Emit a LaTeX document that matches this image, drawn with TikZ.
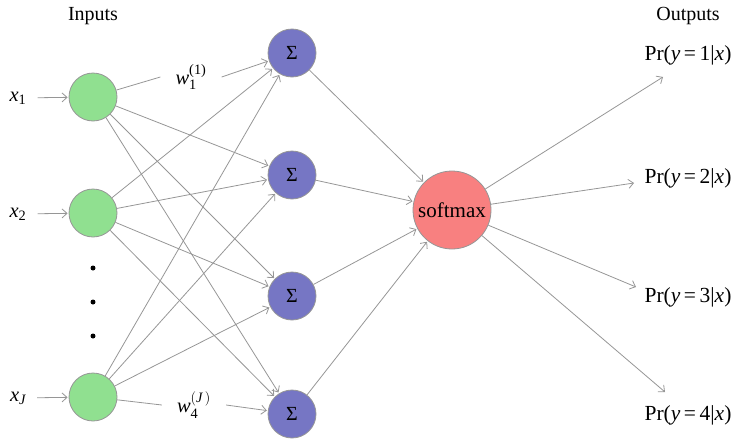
\documentclass[tikz,border=0pt]{standalone}
\usepackage{fontspec}
\setmainfont{Liberation Serif}
\usepackage{amsmath}
\usetikzlibrary{arrows.meta}
\definecolor{edgec}{RGB}{150,150,150}
\definecolor{inpc}{RGB}{144,224,144}
\definecolor{sigc}{RGB}{118,118,196}
\definecolor{softc}{RGB}{248,128,128}
\begin{document}
\begin{tikzpicture}[x=1pt,y=-1pt,
  conn/.style={draw=edgec,line width=0.8pt,-{Straight Barb[length=5pt,width=9pt]},shorten >=1pt},
  plain/.style={draw=edgec,line width=0.8pt},
  inp/.style={circle,draw=edgec,line width=0.8pt,fill=inpc,minimum size=48pt,inner sep=0pt},
  sig/.style={circle,draw=edgec,line width=0.8pt,fill=sigc,minimum size=48pt,inner sep=0pt,font=\fontsize{20}{22}\selectfont},
  soft/.style={circle,draw=edgec,line width=0.8pt,fill=softc,minimum size=78pt,inner sep=0pt,font=\fontsize{21}{24}\selectfont},
  lab/.style={font=\fontsize{20.5}{24}\selectfont,inner sep=1pt},
  plab/.style={font=\fontsize{21.5}{24}\selectfont,inner sep=1pt},
  wlab/.style={font=\fontsize{20.5}{24}\selectfont,inner xsep=15pt,inner ysep=2pt},
  head/.style={font=\fontsize{20}{22}\selectfont,inner sep=0pt},
  dotc/.style={circle,fill=black,minimum size=5pt,inner sep=0pt}]
\useasboundingbox (0,0) rectangle (735,439);
% headers
\node[head] (hin) at (93,16) {Inputs};
\node[head] (hout) at (688,16) {Outputs};
% input labels
\node[lab] (x1) at (18,98) {\textit{x}$_{\text{1}}$};
\node[lab] (x2) at (18,214) {\textit{x}$_{\text{2}}$};
\node[lab] (xJ) at (18,398) {\textit{x}$_{\textit{J}}$};
% input nodes
\node[inp] (i1) at (93,97) {};
\node[inp] (i2) at (93,213) {};
\node[inp] (iJ) at (93,397) {};
\node[dotc] (d1) at (93,268) {};
\node[dotc] (d2) at (93,302) {};
\node[dotc] (d3) at (93,336) {};
% sigma nodes
\node[sig] (s1) at (292,53) {Σ};
\node[sig] (s2) at (292,175) {Σ};
\node[sig] (s3) at (292,296) {Σ};
\node[sig] (s4) at (292,414) {Σ};
% softmax
\node[soft] (sm) at (452,210) {softmax};
% weight labels
\node[wlab] (w1) at (191,77) {\textit{w}$_{\text{1}}^{\text{(1)}}$};
\node[wlab] (wJ) at (194,405) {\textit{w}$_{\text{4}}^{(\textit{J}\,)}$};
% outputs
\node[plab] (o1) at (688,55) {Pr(\textit{y}\,=\,1|\textit{x})};
\node[plab] (o2) at (688,178) {Pr(\textit{y}\,=\,2|\textit{x})};
\node[plab] (o3) at (688,297) {Pr(\textit{y}\,=\,3|\textit{x})};
\node[plab] (o4) at (688,415) {Pr(\textit{y}\,=\,4|\textit{x})};
\coordinate (e1) at (663,77);
\coordinate (e2) at (634,183);
\coordinate (e3) at (636,287);
\coordinate (e4) at (665,392);
% input arrows
\draw[conn,shorten <=10pt] (x1) -- (i1);
\draw[conn,shorten <=10pt] (x2) -- (i2);
\draw[conn,shorten <=10pt] (xJ) -- (iJ);
% weighted edges
\draw[plain] (i1) -- (w1.west);
\draw[conn] (w1.east) -- (s1);
\draw[plain] (iJ) -- (wJ.west);
\draw[conn] (wJ.east) -- (s4);
\foreach \a/\b in {i1/s2,i1/s3,i1/s4,i2/s1,i2/s2,i2/s3,i2/s4,iJ/s1,iJ/s2,iJ/s3}
  \draw[conn] (\a) -- (\b);
% to softmax
\foreach \b in {s1,s2,s3,s4}
  \draw[conn] (\b) -- (sm);
% outputs
\foreach \e in {e1,e2,e3,e4}
  \draw[conn,shorten >=0pt] (sm) -- (\e);
\end{tikzpicture}
\end{document}
